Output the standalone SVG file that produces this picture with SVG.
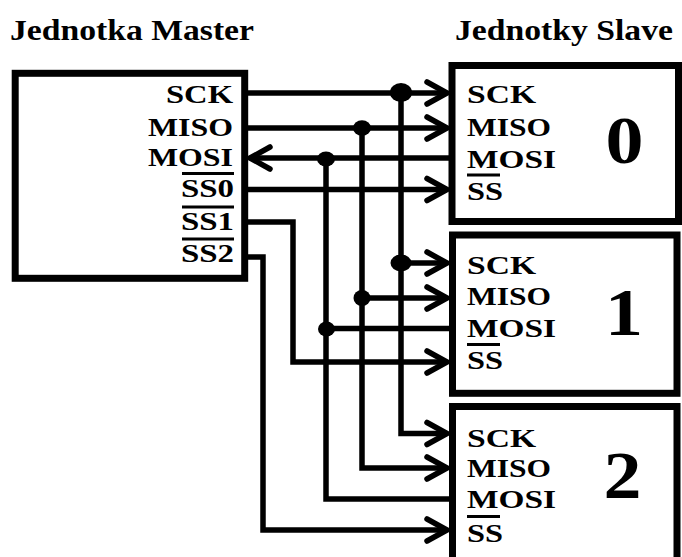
<svg xmlns="http://www.w3.org/2000/svg" width="682" height="557" viewBox="0 0 682 557">
<defs>
<style>
text{font-family:"Liberation Serif","Times New Roman",serif;font-weight:bold;fill:#000}
.h{font-size:30px}
.l{font-size:25px}
.d{font-size:68px}
.box{fill:#fff;stroke:#000;stroke-width:7}
.w{fill:none;stroke:#000;stroke-width:5.5}
.ov{stroke:#000;stroke-width:3.2}
.dot{fill:#000}
</style>
<marker id="chev" markerUnits="userSpaceOnUse" viewBox="-26 -16 30 32" refX="0" refY="0" markerWidth="30" markerHeight="32" orient="auto">
<path d="M-20,-11 L0,0 L-20,11" fill="none" stroke="#000" stroke-width="5.5" stroke-linecap="round"/>
</marker>
</defs>
<g id="titles">
<text class="h" x="10" y="40" textLength="244" lengthAdjust="spacingAndGlyphs">Jednotka Master</text>
<text class="h" x="455" y="40" textLength="218" lengthAdjust="spacingAndGlyphs">Jednotky Slave</text>
</g>
<g id="master">
<rect class="box" x="15.2" y="73.3" width="229.5" height="205" stroke-width="6.5"/>
<text class="l" x="233" y="103" text-anchor="end" textLength="67" lengthAdjust="spacingAndGlyphs">SCK</text>
<text class="l" x="233" y="136" text-anchor="end" textLength="85" lengthAdjust="spacingAndGlyphs">MISO</text>
<text class="l" x="233" y="165.5" text-anchor="end" textLength="85" lengthAdjust="spacingAndGlyphs">MOSI</text>
<text class="l" x="234" y="197" text-anchor="end" textLength="53" lengthAdjust="spacingAndGlyphs">SS0</text>
<text class="l" x="234" y="230" text-anchor="end" textLength="53" lengthAdjust="spacingAndGlyphs">SS1</text>
<text class="l" x="234" y="262" text-anchor="end" textLength="53" lengthAdjust="spacingAndGlyphs">SS2</text>
<line class="ov" x1="182" y1="173.5" x2="234" y2="173.5"/>
<line class="ov" x1="182" y1="207" x2="234" y2="207"/>
<line class="ov" x1="182" y1="239" x2="234" y2="239"/>
</g>
<g id="slave0">
<rect class="box" x="452" y="65.5" width="226.5" height="156"/>
<text class="l" x="467" y="103" textLength="69" lengthAdjust="spacingAndGlyphs">SCK</text>
<text class="l" x="467" y="135.5" textLength="84" lengthAdjust="spacingAndGlyphs">MISO</text>
<text class="l" x="467" y="168" textLength="89" lengthAdjust="spacingAndGlyphs">MOSI</text>
<text class="l" x="467" y="200" textLength="36" lengthAdjust="spacingAndGlyphs">SS</text>
<line class="ov" x1="467" y1="175" x2="500" y2="175"/>
<text class="d" x="624.5" y="163" text-anchor="middle" textLength="38" lengthAdjust="spacingAndGlyphs">0</text>
</g>
<g id="slave1">
<rect class="box" x="452.5" y="235" width="224.5" height="158.3"/>
<text class="l" x="467" y="273.5" textLength="69" lengthAdjust="spacingAndGlyphs">SCK</text>
<text class="l" x="467" y="305" textLength="84" lengthAdjust="spacingAndGlyphs">MISO</text>
<text class="l" x="467" y="337" textLength="89" lengthAdjust="spacingAndGlyphs">MOSI</text>
<text class="l" x="467" y="368.5" textLength="36" lengthAdjust="spacingAndGlyphs">SS</text>
<line class="ov" x1="467" y1="344.5" x2="500" y2="344.5"/>
<text class="d" x="624" y="335" text-anchor="middle" textLength="38" lengthAdjust="spacingAndGlyphs">1</text>
</g>
<g id="slave2">
<rect class="box" x="452.5" y="406.5" width="224.5" height="170"/>
<text class="l" x="467" y="447" textLength="69" lengthAdjust="spacingAndGlyphs">SCK</text>
<text class="l" x="467" y="477" textLength="84" lengthAdjust="spacingAndGlyphs">MISO</text>
<text class="l" x="467" y="508" textLength="89" lengthAdjust="spacingAndGlyphs">MOSI</text>
<text class="l" x="467" y="542" textLength="36" lengthAdjust="spacingAndGlyphs">SS</text>
<line class="ov" x1="467" y1="516.5" x2="500" y2="516.5"/>
<text class="d" x="622.5" y="498" text-anchor="middle" textLength="38" lengthAdjust="spacingAndGlyphs">2</text>
</g>
<g id="connectors">
<path class="w" d="M248,93 H447" marker-end="url(#chev)"/>
<path class="w" d="M248,128 H447" marker-end="url(#chev)"/>
<path class="w" d="M452,158 H250" marker-end="url(#chev)"/>
<path class="w" d="M248,189.5 H447" marker-end="url(#chev)"/>
<path class="w" d="M401,93 V433.5 H447" marker-end="url(#chev)"/>
<path class="w" d="M362,128 V468 H447" marker-end="url(#chev)"/>
<path class="w" d="M326,158 V499 H452"/>
<path class="w" d="M401,263 H447" marker-end="url(#chev)"/>
<path class="w" d="M362,298 H447" marker-end="url(#chev)"/>
<path class="w" d="M326,328.5 H452"/>
<path class="w" d="M248,222 H293 V362 H447" marker-end="url(#chev)"/>
<path class="w" d="M248,257 H263 V530 H447" marker-end="url(#chev)"/>
<ellipse class="dot" cx="401" cy="92.5" rx="11" ry="9.5"/>
<ellipse class="dot" cx="401" cy="263" rx="10.5" ry="8.5"/>
<ellipse class="dot" cx="362" cy="128" rx="9" ry="7.8"/>
<ellipse class="dot" cx="362" cy="298" rx="8.5" ry="8"/>
<ellipse class="dot" cx="326" cy="159" rx="9" ry="7.5"/>
<ellipse class="dot" cx="326.5" cy="329" rx="8.5" ry="7.5"/>
</g>
</svg>
